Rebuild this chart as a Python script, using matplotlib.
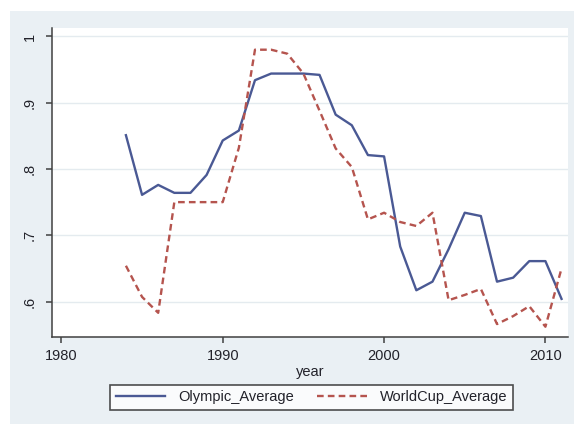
import matplotlib
matplotlib.use("Agg")
import matplotlib.pyplot as plt
from matplotlib.patches import Rectangle
from matplotlib.lines import Line2D

# Yearly averages
years = list(range(1984, 2012))
olympic_average = [0.851, 0.761, 0.776, 0.764, 0.764, 0.791, 0.843, 0.858,
                   0.934, 0.944, 0.944, 0.944, 0.942, 0.882, 0.866, 0.821,
                   0.819, 0.683, 0.617, 0.630, 0.679, 0.734, 0.729, 0.630,
                   0.636, 0.661, 0.661, 0.604]
worldcup_average = [0.654, 0.607, 0.583, 0.750, 0.750, 0.750, 0.750, 0.832,
                    0.980, 0.980, 0.974, 0.944, 0.888, 0.831, 0.803, 0.724,
                    0.734, 0.720, 0.714, 0.734, 0.602, 0.610, 0.619, 0.566,
                    0.578, 0.593, 0.562, 0.650]

x_ticks = [1980, 1990, 2000, 2010]
y_ticks = [0.6, 0.7, 0.8, 0.9, 1.0]
y_tick_labels = [".6", ".7", ".8", ".9", "1"]

NAVY = "#4a5994"
MAROON = "#b5544e"
GRAPH_BG = "#eaf0f4"
GRID = "#e4ebef"
TEXT = "#22222a"
FS = 10.5

plt.rcParams["font.family"] = ["Liberation Sans", "DejaVu Sans"]
plt.rcParams["lines.scale_dashes"] = False

W, H = 574, 424
fig = plt.figure(figsize=(W / 100, H / 100), dpi=100)
fig.patch.set_facecolor("white")
# graph region background
fig.patches.append(Rectangle((10 / W, 0), 1 - 10 / W, 1 - 11 / H,
                             transform=fig.transFigure, facecolor=GRAPH_BG,
                             edgecolor="none", zorder=-5))

left, right = 51.7 / W, 568 / W
bottom, top = 1 - 337 / H, 1 - 27.5 / H
ax = fig.add_axes([left, bottom, right - left, top - bottom])
ax.set_facecolor("white")

ax.plot(years, olympic_average, color=NAVY, lw=1.7, label="Olympic_Average",
        solid_joinstyle="round")
ax.plot(years, worldcup_average, color=MAROON, lw=1.7, dashes=(4.8, 3.0),
        label="WorldCup_Average")

ax.set_xlim(1979.4, 2011.4)
ax.set_ylim(0.5465, 1.0135)
ax.set_xticks(x_ticks)
ax.set_xticklabels([str(t) for t in x_ticks])
ax.set_yticks(y_ticks)
ax.set_yticklabels(y_tick_labels, rotation=90, va="center")

ax.yaxis.grid(True, color=GRID, lw=1.0)
ax.set_axisbelow(True)
for s in ("top", "right"):
    ax.spines[s].set_visible(False)
for s in ("left", "bottom"):
    ax.spines[s].set_color("#404040")
    ax.spines[s].set_linewidth(1.1)

ax.tick_params(axis="both", length=4, width=1.1, color="#404040",
               labelsize=FS, labelcolor=TEXT)
ax.tick_params(axis="x", pad=5)
ax.tick_params(axis="y", pad=7)

ax.set_xlabel("year", fontsize=FS, color=TEXT, labelpad=1)

handles = [Line2D([], [], color=NAVY, lw=1.7),
           Line2D([], [], color=MAROON, lw=1.7, dashes=(4.8, 3.0))]
leg = fig.legend(handles, ["Olympic_Average", "WorldCup_Average"],
                 loc="center", bbox_to_anchor=((106 + 517) / 2 / W, 1 - 397.5 / H),
                 ncol=2, fontsize=FS, frameon=True, fancybox=False,
                 handlelength=3.4, handletextpad=0.9, columnspacing=1.6,
                 borderpad=0.4, borderaxespad=0)
frame = leg.get_frame()
frame.set_edgecolor("#222222")
frame.set_linewidth(1.2)
frame.set_facecolor("white")
for t in leg.get_texts():
    t.set_color(TEXT)

fig.savefig("out.png", dpi=100)
